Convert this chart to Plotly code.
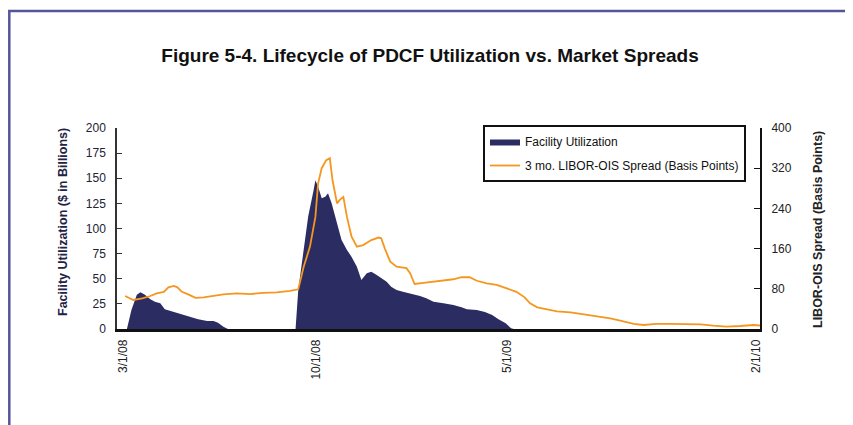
import plotly.graph_objects as go

# Facility utilization ($ billions) - left axis
util_dates = ["2008-03-05", "2008-03-10", "2008-03-16", "2008-03-20", "2008-03-25", "2008-03-31",
              "2008-04-05", "2008-04-11", "2008-04-16", "2008-04-26", "2008-05-05", "2008-05-14",
              "2008-05-23", "2008-06-02", "2008-06-09", "2008-06-14", "2008-06-20", "2008-06-25",
              "2008-09-08", "2008-09-11", "2008-09-17", "2008-09-22", "2008-09-28", "2008-09-30",
              "2008-10-03", "2008-10-07", "2008-10-11", "2008-10-14", "2008-10-18", "2008-10-24",
              "2008-10-29", "2008-11-04", "2008-11-09", "2008-11-15", "2008-11-20", "2008-11-26",
              "2008-12-01", "2008-12-07", "2008-12-12", "2008-12-18", "2008-12-23", "2008-12-29",
              "2009-01-05", "2009-01-13", "2009-01-24", "2009-01-31", "2009-02-08", "2009-02-19",
              "2009-03-02", "2009-03-11", "2009-03-17", "2009-03-28", "2009-04-06", "2009-04-14",
              "2009-04-21", "2009-04-29", "2009-05-05", "2009-05-08"]
util_values = [0, 19, 34, 36.5, 34, 29.5,
               27, 25.5, 19.6, 17, 14.6, 12.2,
               9.7, 8, 8, 6.3, 2.3, 0,
               0, 39, 79, 112, 138, 148,
               141.6, 130, 131.6, 135, 125, 105,
               88.5, 78.6, 72, 62, 48.8, 55.4,
               57, 53.7, 50.4, 47, 42, 38.8,
               37, 35.5, 32.8, 30.5, 27, 25.5,
               24, 21.6, 19.6, 19, 17, 14,
               9.7, 5.7, 0.7, 0]

# 3 mo. LIBOR-OIS spread (basis points) - right axis
spread_dates = ["2008-03-03", "2008-03-12", "2008-03-22", "2008-03-31", "2008-04-07", "2008-04-15",
                "2008-04-20", "2008-04-26", "2008-04-30", "2008-05-05", "2008-05-12", "2008-05-20",
                "2008-05-29", "2008-06-07", "2008-06-20", "2008-07-05", "2008-07-20", "2008-08-03",
                "2008-08-18", "2008-09-02", "2008-09-11", "2008-09-17", "2008-09-24", "2008-09-30",
                "2008-10-03", "2008-10-07", "2008-10-12", "2008-10-16", "2008-10-19", "2008-10-24",
                "2008-10-27", "2008-10-31", "2008-11-04", "2008-11-09", "2008-11-15", "2008-11-22",
                "2008-12-01", "2008-12-09", "2008-12-12", "2008-12-16", "2008-12-22", "2008-12-29",
                "2009-01-09", "2009-01-13", "2009-01-18", "2009-01-28", "2009-02-08", "2009-02-19",
                "2009-03-02", "2009-03-11", "2009-03-20", "2009-03-28", "2009-04-08", "2009-04-19",
                "2009-04-30", "2009-05-11", "2009-05-20", "2009-05-26", "2009-06-03", "2009-06-14",
                "2009-06-25", "2009-07-10", "2009-07-25", "2009-08-08", "2009-08-23", "2009-09-03",
                "2009-09-18", "2009-09-29", "2009-10-13", "2009-10-28", "2009-11-16", "2009-12-01",
                "2009-12-15", "2009-12-30", "2010-01-14", "2010-01-29", "2010-02-05"]
spread_values = [65.7, 57.7, 61, 65.7, 71, 74,
                 83, 85.6, 83, 74, 69, 62,
                 63, 66, 69, 71, 69.6, 72,
                 73, 76, 79, 124, 164, 223,
                 290, 320, 336, 340, 296, 250,
                 257, 263, 223, 184, 164, 167,
                 177, 182, 180.5, 160, 134, 124,
                 121, 111, 89.6, 92, 94, 96,
                 99, 103, 103, 96, 91, 87.6,
                 81, 74, 63, 51, 43, 39,
                 35, 33, 29, 26, 21, 16.5,
                 10, 8, 10, 10, 10, 9.4,
                 6.6, 4.6, 6, 8, 7]

x_tickvals = ["2008-03-01", "2008-10-01", "2009-05-01", "2010-02-01"]
x_ticktext = ["3/1/08", "10/1/08", "5/1/09", "2/1/10"]
left_ticks = [0, 25, 50, 75, 100, 125, 150, 175, 200]
right_ticks = [0, 80, 160, 240, 320, 400]

NAVY = "#2b2c62"
ORANGE = "#f5961f"
FONT = "Liberation Sans, Arial, sans-serif"

fig = go.Figure()
fig.add_trace(go.Scatter(
    x=util_dates, y=util_values, name="Facility Utilization", legendgroup="a",
    mode="lines", line=dict(width=0, color=NAVY), fill="tozeroy", fillcolor=NAVY,
    yaxis="y"))
fig.add_trace(go.Scatter(
    x=spread_dates, y=spread_values, name="3 mo. LIBOR-OIS Spread (Basis Points)",
    legendgroup="b",
    mode="lines", line=dict(width=1.8, color=ORANGE), yaxis="y2"))

# page body has an 8px margin; figure is sized and placed to compensate
OFF = 8
W, H = 853 - OFF, 425 - OFF
L, T = 117 - OFF, 128 - OFF
R = W - (760 - OFF)
B = H - (329 - OFF)
pw, ph = W - L - R, H - T - B

def px_x(px):
    return (px - OFF - L) / pw

def px_y(py):
    return (H - B - (py - OFF)) / ph

fig.update_layout(
    width=W, height=H, autosize=False,
    margin=dict(l=L, r=R, t=T, b=B, pad=0),
    paper_bgcolor="white", plot_bgcolor="white",
    font=dict(family=FONT, color="#222222", size=12),
    title=dict(text="<b>Figure 5-4. Lifecycle of PDCF Utilization vs. Market Spreads</b>",
               x=(430 - OFF) / W, xanchor="center", xref="container",
               y=1 - (55 - OFF) / H, yanchor="middle", yref="container",
               font=dict(family="Liberation Sans Narrow, Arial Narrow, Liberation Sans, sans-serif",
                         size=19, color="#111111")),
    showlegend=True,
    legend=dict(x=px_x(483), y=px_y(125), xanchor="left", yanchor="top",
                bordercolor="#111111", borderwidth=2, bgcolor="white",
                font=dict(size=12, color="#111111"), tracegroupgap=5,
                itemwidth=30),
    xaxis=dict(type="date", range=["2008-02-23", "2010-02-05"],
               tickvals=x_tickvals, ticktext=x_ticktext, tickangle=-90,
               showgrid=False, zeroline=False, showline=True, linecolor="#111111",
               linewidth=2.5, ticks="", ticklabelstandoff=3,
               tickfont=dict(size=12, color="#222222")),
    yaxis=dict(range=[0, 200], tickvals=left_ticks, showgrid=False, zeroline=False,
               showline=True, linecolor="#333333", linewidth=1.5,
               ticks="inside", ticklen=5, tickcolor="#333333", ticklabelstandoff=7,
               tickfont=dict(size=12, color="#222233")),
    yaxis2=dict(range=[0, 400], tickvals=right_ticks, overlaying="y", side="right",
                showgrid=False, zeroline=False, showline=True, linecolor="#111111",
                linewidth=2, ticks="inside", ticklen=6, tickcolor="#111111",
                ticklabelstandoff=7, tickfont=dict(size=12, color="#222222")),
    annotations=[
        dict(text="<b>Facility Utilization ($ in Billions)</b>", xref="paper", yref="paper",
             x=px_x(63), y=px_y(222), textangle=-90, showarrow=False,
             xanchor="center", yanchor="middle", font=dict(size=12.5, color="#222244")),
        dict(text="<b>LIBOR-OIS Spread (Basis Points)</b>", xref="paper", yref="paper",
             x=px_x(818), y=px_y(230), textangle=-90, showarrow=False,
             xanchor="center", yanchor="middle", font=dict(size=12.5, color="#222222")),
    ],
    shapes=[
        dict(type="rect", xref="paper", yref="paper",
             x0=px_x(OFF + 1.3), x1=px_x(900), y0=px_y(470), y1=px_y(11),
             line=dict(color="#55559a", width=2.5), fillcolor="rgba(0,0,0,0)", layer="below"),
    ],
)

fig.write_html("out.html")
